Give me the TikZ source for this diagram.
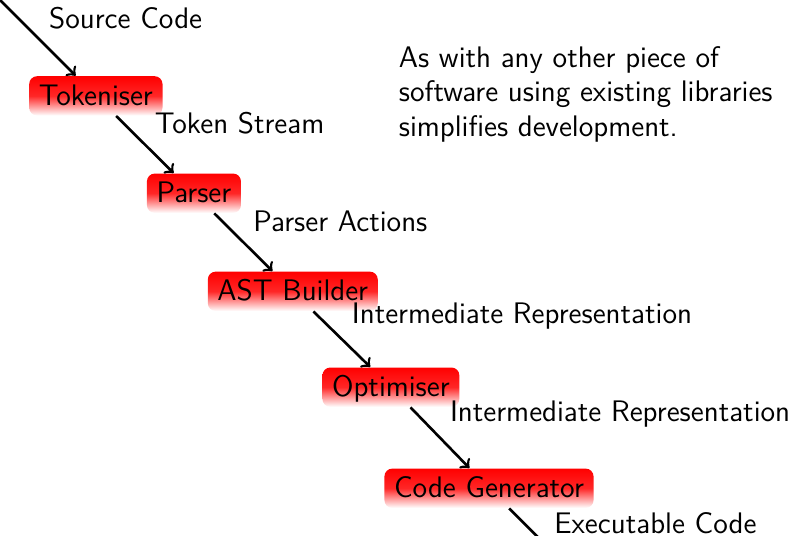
\documentclass[tikz,border=0pt]{standalone}
\renewcommand{\familydefault}{\sfdefault}
\tikzset{
	stage/.style={rounded corners=3pt, top color=red, bottom color=white, middle color=red!85,
		text height=7.4pt, text depth=0.2pt, inner sep=3.67pt},
	flow/.style={->, line width=0.035cm},
}
\begin{document}
\begin{tikzpicture}[font=\fontsize{11.3}{13.1}\selectfont]
	\clip (0,0) rectangle (10.63,-7.145);
	\coordinate (src) at (-0.03,0.03);
	\node[stage] (tok) at (1.28,-1.28) {Tokeniser};
	\node[stage] (par) at (2.59,-2.58) {Parser};
	\node[stage] (ast) at (3.91,-3.89) {AST Builder};
	\node[stage] (opt) at (5.22,-5.17) {Optimiser};
	\node[stage] (gen) at (6.53,-6.52) {Code Generator};
	\coordinate (exe) at (7.84,-7.83);
	
	\draw[flow] (src) -- node[pos=0.53,above right] {Source Code} (tok);
	\draw[flow] (tok) -- node[above right] {Token Stream} (par);
	\draw[flow] (par) -- node[above right] {Parser Actions} (ast);
	\draw[flow] (ast) -- node[above right] {Intermediate Representation} (opt);
	\draw[flow] (opt) -- node[above right] {Intermediate Representation} (gen);
	\draw[flow] (gen) -- node[pos=0.45,above right] {Executable Code} (exe);
	
	\node[anchor=north west, align=left, inner sep=0pt] (note) at (5.32,-0.61)
		{As with any other piece of\\software using existing libraries\\simplifies development.};
\end{tikzpicture}
\end{document}
